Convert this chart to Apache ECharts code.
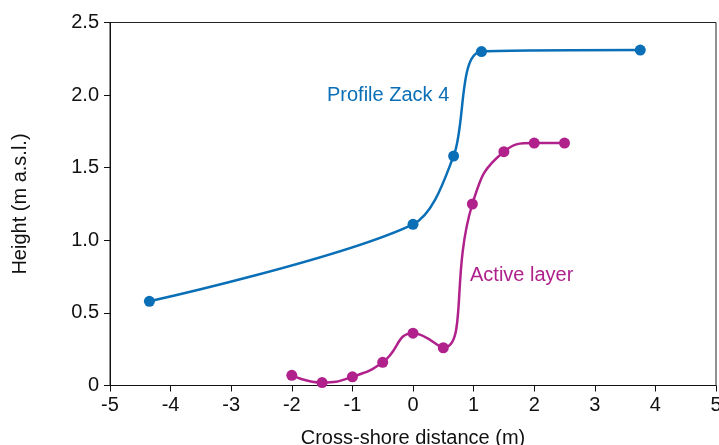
<!DOCTYPE html>
<html><head><meta charset="utf-8">
<script src="https://cdn.jsdelivr.net/npm/echarts@6/dist/echarts.min.js"></script>
<style>html,body{margin:0;padding:0;background:#fff}#c{width:719px;height:445px}</style>
</head><body><div id="c"></div>
<script>
var profileX = [-4.35, 0.0, 0.67, 1.13, 3.75];
var profileY = [0.58, 1.11, 1.58, 2.30, 2.31];
var activeX = [-2.0, -1.5, -1.0, -0.5, 0.0, 0.5, 0.98, 1.5, 2.0, 2.5];
var activeY = [0.07, 0.02, 0.06, 0.16, 0.36, 0.26, 1.25, 1.61, 1.67, 1.67];
var xTicks = [-5, -4, -3, -2, -1, 0, 1, 2, 3, 4, 5];
var yTicks = [0, 0.5, 1.0, 1.5, 2.0, 2.5];
var labelProfile = "Profile Zack 4";
var labelActive = "Active layer";

function pairs(xs, ys){ return xs.map(function(x,i){return [x, ys[i]];}); }
var FONT = "Liberation Sans";
var BLUE = "#0a6fb6", MAG = "#b0218c";
var chart = echarts.init(document.getElementById('c'), null, {renderer:'canvas'});
chart.setOption({
  animation:false,
  backgroundColor:'#fff',
  grid:{left:110, right:3, top:22.5, bottom:59.5, show:true, borderColor:'#222', borderWidth:1,
    containLabel:false, outerBoundsMode:'none'},
  xAxis:{type:'value', min:-5, max:5, interval:1,
    name:'Cross-shore distance (m)', nameLocation:'middle', nameGap:43,
    nameTextStyle:{fontFamily:FONT, fontSize:20, color:'#111'},
    axisLine:{onZero:false, lineStyle:{color:'#111', width:1}},
    axisTick:{show:true, inside:false, length:6, lineStyle:{color:'#111'}},
    axisLabel:{fontFamily:FONT, fontSize:20, color:'#111', margin:10,
      formatter:function(v){return String(v);} },
    splitLine:{show:false}},
  yAxis:{type:'value', min:0, max:2.5, interval:0.5,
    name:'Height (m a.s.l.)', nameLocation:'middle', nameGap:80, nameRotate:90,
    nameTextStyle:{fontFamily:FONT, fontSize:20, color:'#111'},
    axisLine:{show:true, onZero:false, lineStyle:{color:'#111', width:1}},
    axisTick:{show:true, inside:false, length:6, lineStyle:{color:'#111'}},
    axisLabel:{fontFamily:FONT, fontSize:20, color:'#111', margin:11,
      formatter:function(v){return v===0?'0':v.toFixed(1);} },
    splitLine:{show:false}},
  series:[
    {type:'line', data:pairs(profileX, profileY), smooth:0.3, symbol:'circle', symbolSize:11,
      lineStyle:{color:BLUE, width:2.5}, itemStyle:{color:BLUE}, z:3},
    {type:'line', data:pairs(activeX, activeY), smooth:0.5, symbol:'circle', symbolSize:11,
      lineStyle:{color:MAG, width:2.5}, itemStyle:{color:MAG}, z:3}
  ],
  graphic:[
    {type:'text', left:327, top:85, style:{text:labelProfile, fontFamily:FONT, fontSize:20, fill:BLUE}},
    {type:'text', left:470, top:265, style:{text:labelActive, fontFamily:FONT, fontSize:20, fill:MAG}}
  ]
});
</script></body></html>
